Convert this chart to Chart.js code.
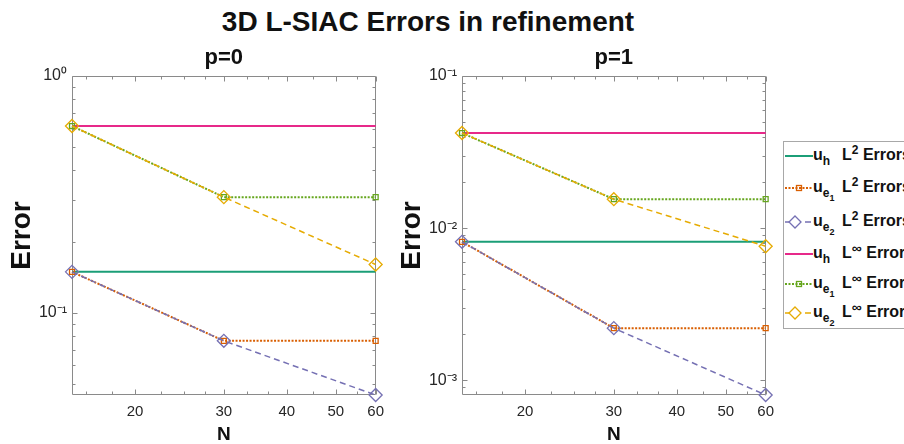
<!DOCTYPE html>
<html><head><meta charset="utf-8">
<script src="https://cdn.jsdelivr.net/npm/chart.js@4/dist/chart.umd.min.js"></script>
<style>
html,body{margin:0;padding:0;background:#fff;}
body{width:904px;height:444px;position:relative;overflow:hidden;font-family:"Liberation Sans",Arial,Helvetica,sans-serif;}
#title{position:absolute;left:0;width:856px;top:8px;line-height:27px;text-align:center;font-weight:bold;font-size:28px;color:#111;white-space:nowrap;}
.cw{position:absolute;top:36px;width:392px;height:408px;}
.cw canvas{display:block;}
#legend{position:absolute;left:783px;top:141px;width:160px;height:188px;border:1px solid #a8a8a8;background:#fff;box-sizing:border-box;}
.ls{position:absolute;left:1px;}
.lt{position:absolute;left:29px;font-weight:bold;font-size:16px;line-height:20px;white-space:nowrap;color:#111;}
.lt .u{display:inline-block;width:29px;}
.lt sub{font-size:12px;vertical-align:-5px;line-height:0;}
.lt sub sub{font-size:9px;vertical-align:-4px;}
.lt sup{font-size:12px;vertical-align:6px;line-height:0;}
.lt sup.inf{font-size:14px;vertical-align:5px;}
</style>
</head>
<body>
<div id="title">3D L-SIAC Errors in refinement</div>
<div class="cw" style="left:0px"><canvas id="c0" width="392" height="408"></canvas></div>
<div class="cw" style="left:390px"><canvas id="c1" width="392" height="408"></canvas></div>
<div id="legend"></div>
<script>
// ---------- data ----------
const N = [15, 30, 60];

const p0_uh_L2    = [0.149, 0.149, 0.149];
const p0_ue1_L2   = [0.149, 0.0762, 0.0762];
const p0_ue2_L2   = [0.149, 0.0762, 0.045];
const p0_uh_Linf  = [0.615, 0.615, 0.615];
const p0_ue1_Linf = [0.615, 0.308, 0.308];
const p0_ue2_Linf = [0.615, 0.308, 0.160];

const p1_uh_L2    = [0.00813, 0.00813, 0.00813];
const p1_ue1_L2   = [0.00813, 0.0022, 0.0022];
const p1_ue2_L2   = [0.00813, 0.0022, 0.0008];
const p1_uh_Linf  = [0.0422, 0.0422, 0.0422];
const p1_ue1_Linf = [0.0422, 0.0155, 0.0155];
const p1_ue2_Linf = [0.0422, 0.0155, 0.0076];

const panelTitles = ['p=0', 'p=1'];
const xTicks = [20, 30, 40, 50, 60];
const xTickLabels = ['20', '30', '40', '50', '60'];
const xMinorTicks = [16, 18, 22.5, 25, 27.5, 33.33, 36.67, 45, 55];
const yTicksP0 = [1, 0.1];
const yTickLabelsP0 = ['10\u2070', '10\u207B\u00B9'];
const yTicksP1 = [0.1, 0.01, 0.001];
const yTickLabelsP1 = ['10\u207B\u00B9', '10\u207B\u00B2', '10\u207B\u00B3'];
const yRangeP0 = [0.045, 1];
const yRangeP1 = [0.0008, 0.1];

const seriesLabels = [
  '<span class="u">u<sub>h</sub></span>L<sup>2</sup> Errors',
  '<span class="u">u<sub>e<sub>1</sub></sub></span>L<sup>2</sup> Errors',
  '<span class="u">u<sub>e<sub>2</sub></sub></span>L<sup>2</sup> Errors',
  '<span class="u">u<sub>h</sub></span>L<sup class="inf">\u221E</sup> Errors',
  '<span class="u">u<sub>e<sub>1</sub></sub></span>L<sup class="inf">\u221E</sup> Errors',
  '<span class="u">u<sub>e<sub>2</sub></sub></span>L<sup class="inf">\u221E</sup> Errors'
];
const seriesNames = ['uh L2 Errors','ue1 L2 Errors','ue2 L2 Errors','uh Linf Errors','ue1 Linf Errors','ue2 Linf Errors'];

// ---------- styles ----------
const FONT = '"Liberation Sans", Arial, Helvetica, sans-serif';
const colors = ['#1b9e77', '#d95f02', '#7570b3', '#e7298a', '#66a61e', '#e6ab02'];
const styleOf = [
  {dash: [], width: 2, point: false, r: 0},
  {dash: [2, 1.5], width: 2, point: 'rect', r: 3.5},
  {dash: [6, 4], width: 1.5, point: 'rectRot', r: 6.5},
  {dash: [], width: 2, point: false, r: 0},
  {dash: [2, 1.5], width: 2, point: 'rect', r: 3.5},
  {dash: [6, 4], width: 1.5, point: 'rectRot', r: 6.5}
];

function buildDatasets(arrs) {
  return arrs.map((vals, i) => ({
    label: seriesNames[i],
    data: N.map((n, k) => ({x: n, y: vals[k]})),
    borderColor: colors[i],
    backgroundColor: 'rgba(255,255,255,0)',
    borderWidth: styleOf[i].width,
    borderDash: styleOf[i].dash,
    pointStyle: styleOf[i].point || 'circle',
    pointRadius: styleOf[i].r,
    pointBorderWidth: 1.3,
    pointBorderColor: colors[i],
    pointBackgroundColor: 'rgba(255,255,255,0)',
    tension: 0,
    fill: false,
    clip: false,
    order: arrs.length - i
  }));
}

const axisColor = '#8a8a8a';
function minorLogTicks(min, max) {
  const out = [];
  for (let d = Math.floor(Math.log10(min)); d <= Math.ceil(Math.log10(max)); d++) {
    for (let m = 2; m <= 9; m++) {
      const v = m * Math.pow(10, d);
      if (v > min * 1.0001 && v < max * 0.9999) out.push(v);
    }
  }
  return out;
}

const boxPlugin = {
  id: 'matlabBox',
  beforeDatasetsDraw(chart, args, opts) {
    const {ctx, chartArea} = chart;
    const L = Math.round(chartArea.left) + 0.5, R = Math.round(chartArea.right) - 0.5;
    const T = Math.round(chartArea.top) + 0.5, B = Math.round(chartArea.bottom) - 0.5;
    const xs = chart.scales.x, ys = chart.scales.y;
    ctx.save();
    ctx.strokeStyle = axisColor;
    ctx.lineWidth = 1;
    ctx.beginPath();
    ctx.rect(L, T, R - L, B - T);
    ctx.stroke();
    ctx.beginPath();
    const xt = (v, len) => {
      const p = Math.round(xs.getPixelForValue(v)) + 0.5;
      ctx.moveTo(p, B); ctx.lineTo(p, B - len);
      ctx.moveTo(p, T); ctx.lineTo(p, T + len);
    };
    const yt = (v, len) => {
      const p = Math.round(ys.getPixelForValue(v)) + 0.5;
      ctx.moveTo(L, p); ctx.lineTo(L + len, p);
      ctx.moveTo(R, p); ctx.lineTo(R - len, p);
    };
    xTicks.forEach(v => xt(v, 5));
    xMinorTicks.forEach(v => xt(v, 3));
    opts.yMajor.forEach(v => yt(v, 5));
    minorLogTicks(ys.min, ys.max).forEach(v => yt(v, 3));
    ctx.stroke();
    ctx.restore();
  }
};

function makeChart(id, title, arrs, yRange, yTicks, yLabels) {
  return new Chart(document.getElementById(id), {
    type: 'line',
    data: {datasets: buildDatasets(arrs)},
    plugins: [boxPlugin],
    options: {
      responsive: false,
      animation: false,
      devicePixelRatio: 1,
      events: [],
      layout: {padding: {left: 0, right: 14, top: 0, bottom: 0}},
      plugins: {
        legend: {display: false},
        tooltip: {enabled: false},
        title: {
          display: true, text: title, fullSize: false, color: '#111',
          font: {family: FONT, size: 22, weight: 'bold', lineHeight: 1.2},
          padding: {top: 8.8, bottom: 4.8}
        },
        matlabBox: {yMajor: yTicks}
      },
      scales: {
        x: {
          type: 'logarithmic', min: 15, max: 60, position: 'bottom',
          grid: {display: false, drawTicks: false},
          border: {display: false},
          ticks: {
            autoSkip: false, maxRotation: 0, padding: 8, color: '#262626',
            font: {family: FONT, size: 15},
            callback: (v) => { const i = xTicks.indexOf(v); return i >= 0 ? xTickLabels[i] : ''; }
          },
          afterBuildTicks: (s) => { s.ticks = xTicks.map(v => ({value: v})); },
          afterFit: (s) => { s.height = 49; },
          title: {display: true, text: 'N', color: '#111', font: {family: FONT, size: 19, weight: 'bold', lineHeight: 1}, padding: 0}
        },
        y: {
          type: 'logarithmic', min: yRange[0], max: yRange[1], position: 'left',
          grid: {display: false, drawTicks: false},
          border: {display: false},
          ticks: {
            autoSkip: false, padding: 5, color: '#262626',
            font: {family: FONT, size: 16},
            callback: (v) => { const i = yTicks.findIndex(t => Math.abs(t - v) / t < 1e-6); return i >= 0 ? yLabels[i] : ''; }
          },
          afterBuildTicks: (s) => { s.ticks = yTicks.map(v => ({value: v})); },
          afterFit: (s) => { s.width = 72; },
          title: {display: true, text: 'Error', color: '#111', font: {family: FONT, size: 28, weight: 'bold', lineHeight: 1.2}, padding: {top: 5, bottom: 0}}
        }
      }
    }
  });
}

makeChart('c0', panelTitles[0],
  [p0_uh_L2, p0_ue1_L2, p0_ue2_L2, p0_uh_Linf, p0_ue1_Linf, p0_ue2_Linf],
  yRangeP0, yTicksP0, yTickLabelsP0);
makeChart('c1', panelTitles[1],
  [p1_uh_L2, p1_ue1_L2, p1_ue2_L2, p1_uh_Linf, p1_ue1_Linf, p1_ue2_Linf],
  yRangeP1, yTicksP1, yTickLabelsP1);

// ---------- HTML legend (built from the same series styles) ----------
const legendCenters = [14, 46, 80, 112, 142, 171];
const legend = document.getElementById('legend');
seriesLabels.forEach((html, i) => {
  const cy = legendCenters[i];
  const st = styleOf[i];
  let marker = '';
  if (st.point === 'rect') {
    marker = `<rect x="11.5" y="4.5" width="5" height="5" fill="none" stroke="${colors[i]}" stroke-width="1.3"/>`;
  } else if (st.point === 'rectRot') {
    marker = `<polygon points="10,1 16,7 10,13 4,7" fill="#fff" stroke="${colors[i]}" stroke-width="1.3"/>`;
  }
  const svg = `<svg class="ls" style="top:${cy - 7}px" width="28" height="14" viewBox="0 0 28 14">
    <line x1="0" y1="7" x2="28" y2="7" stroke="${colors[i]}" stroke-width="${st.width}" ${st.dash.length ? `stroke-dasharray="${st.dash.join(',')}"` : ''}/>${marker}</svg>`;
  legend.insertAdjacentHTML('beforeend', svg + `<div class="lt" style="top:${cy - 10.8}px">${html}</div>`);
});
</script>
</body></html>
